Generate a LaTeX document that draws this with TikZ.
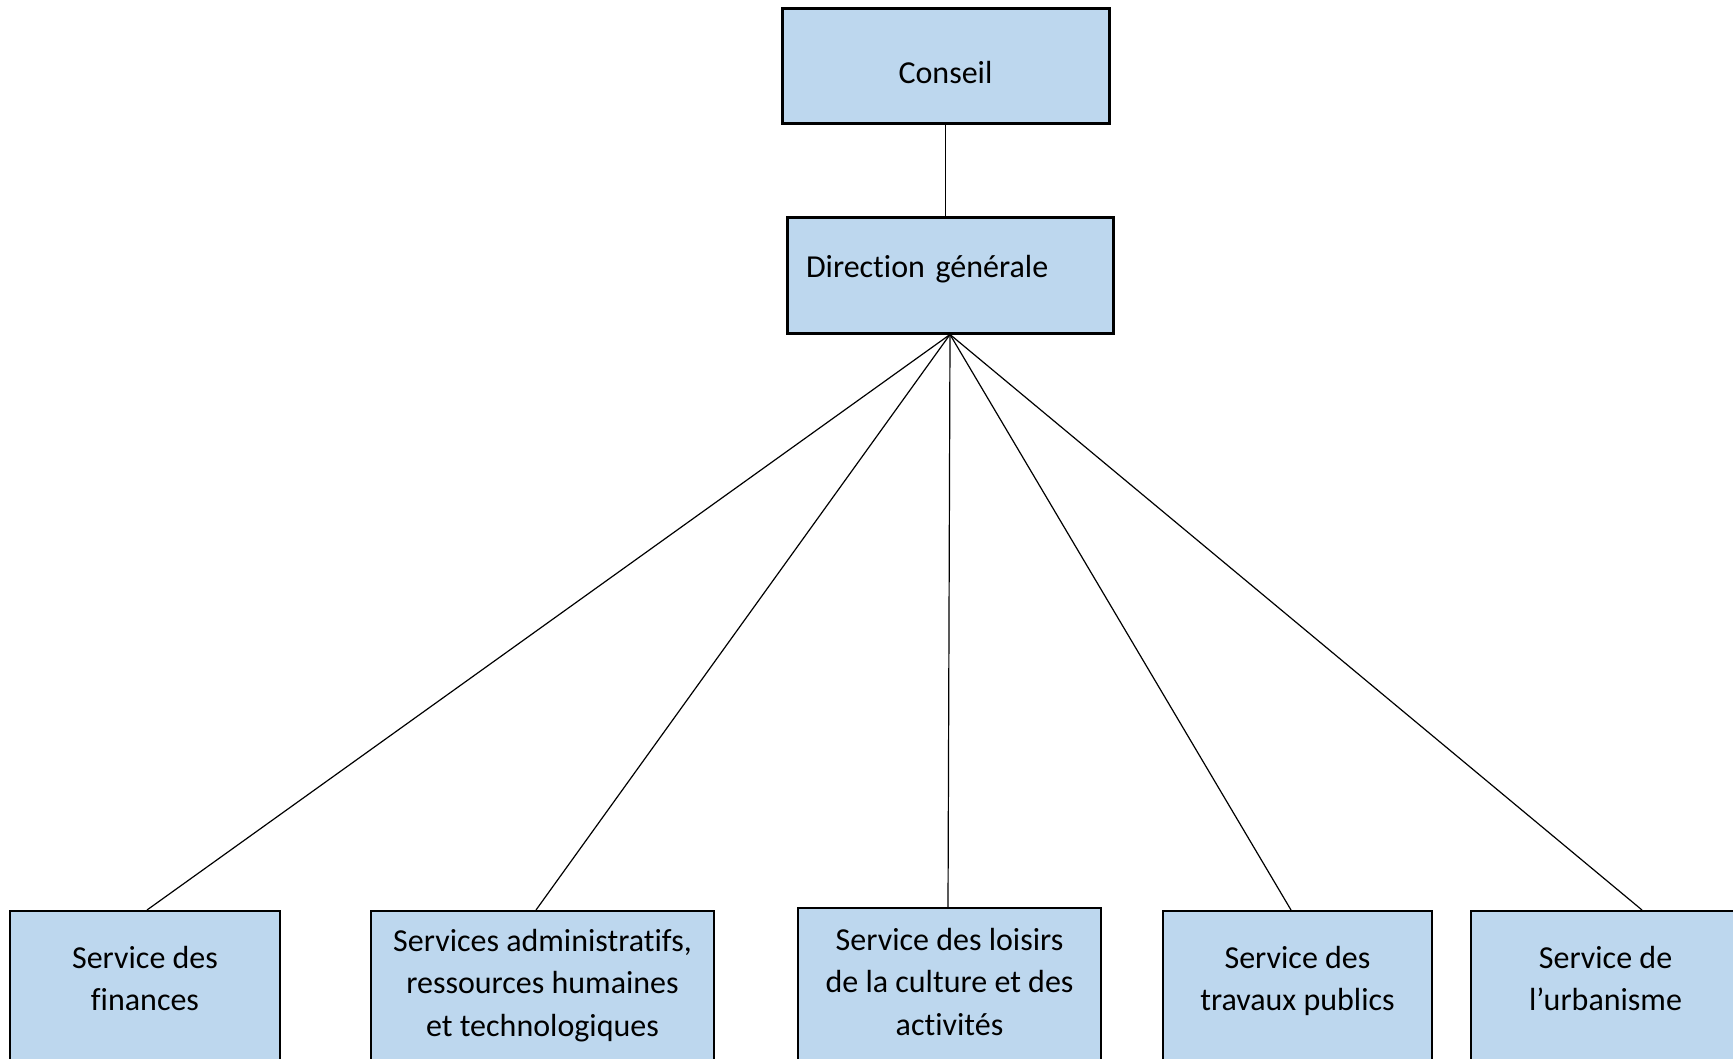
\documentclass[tikz,border=0pt]{standalone}
\usepackage{fontspec}
\setmainfont[Ligatures={NoCommon}]{Carlito}
\definecolor{boxblue}{HTML}{BDD7EE}
\begin{document}
\begin{tikzpicture}[x=0.5pt,y=-0.5pt,
  txt/.style={font=\fontsize{16}{21.3}\selectfont},
  topbox/.style={txt,draw=black,line width=1.5pt,fill=boxblue,rectangle},
  svcbox/.style={txt,draw=black,line width=1pt,fill=boxblue,rectangle,anchor=north,align=center,text depth=150pt},
  link/.style={draw=black,line width=0.6pt}]
\useasboundingbox (0,0) rectangle (1733,1059);
\clip (0,0) rectangle (1733,1059);
\fill[white] (0,0) rectangle (1733,1059);
% top boxes
\node[topbox,minimum width=163.5pt,minimum height=57.5pt,text height=17pt] (con) at (945.5,66.5) {Conseil};
\node[topbox,minimum width=163pt,minimum height=57.5pt,inner xsep=9.5pt,text width=144pt,align=left,text depth=9.5pt] (dir) at (950,275.5) {Direction générale};
% service boxes
\node[svcbox,minimum width=135pt,inner ysep=17.5pt] (b1) at (145,910) {Service des\\finances};
\node[svcbox,minimum width=171.5pt,inner ysep=9pt] (b2) at (542.5,910) {Services administratifs,\\ressources humaines\\et technologiques};
\node[svcbox,minimum width=151.5pt,inner ysep=10pt] (b3) at (949.5,907) {Service des loisirs\\de la culture et des\\activités};
\node[svcbox,minimum width=134.5pt,inner ysep=17.5pt] (b4) at (1297.5,910) {Service des\\travaux publics};
\node[svcbox,minimum width=134.5pt,inner ysep=17.5pt] (b5) at (1605.5,910) {Service de\\l’urbanisme};
% connectors
\draw[link] (con.south) -- (con.south |- dir.north);
\draw[link] (dir.south) -- ([xshift=1pt]b1.north);
\draw[link] (dir.south) -- ([xshift=-3.25pt]b2.north);
\draw[link] (dir.south) -- ([xshift=-0.75pt]b3.north);
\draw[link] (dir.south) -- ([xshift=-3.25pt]b4.north);
\draw[link] (dir.south) -- ([xshift=18.25pt]b5.north);
\end{tikzpicture}
\end{document}
